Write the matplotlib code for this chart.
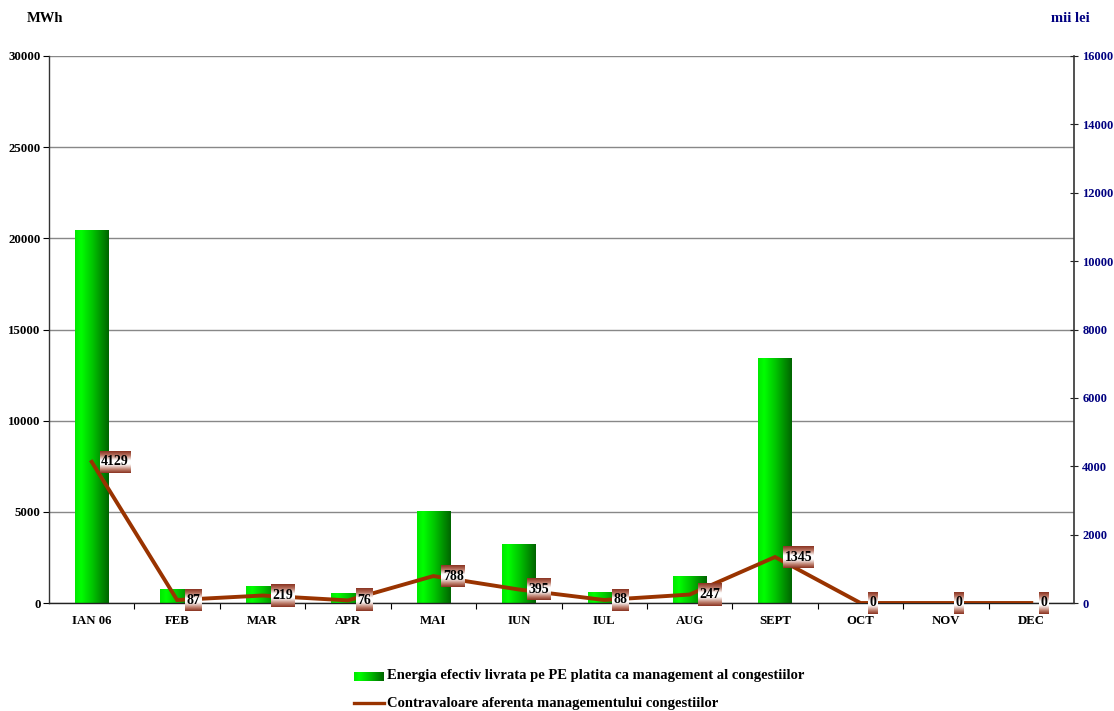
import numpy as np
import matplotlib
matplotlib.use("Agg")
import matplotlib.pyplot as plt
from matplotlib.colors import LinearSegmentedColormap
from matplotlib.lines import Line2D

# ---- data ----
months = ["IAN 06", "FEB", "MAR", "APR", "MAI", "IUN", "IUL", "AUG", "SEPT", "OCT", "NOV", "DEC"]
energy_mwh = [20450, 770, 950, 530, 5050, 3240, 600, 1480, 13440, 0, 0, 0]
value_klei = [4129, 87, 219, 76, 788, 395, 88, 247, 1345, 0, 0, 0]
energy_name = "Energia efectiv livrata pe PE platita ca management al congestiilor"
value_name = "Contravaloare aferenta managementului congestiilor"
left_unit = "MWh"
right_unit = "mii lei"

plt.rcParams["font.family"] = ["Liberation Serif", "DejaVu Serif"]
plt.rcParams["font.weight"] = "bold"

W, H = 1114, 711
fig = plt.figure(figsize=(W / 100, H / 100), dpi=100)
fig.patch.set_facecolor("white")

L, R, T, B = 49, 1074, 56, 603
ax = fig.add_axes([L / W, (H - B) / H, (R - L) / W, (B - T) / H])
ax2 = ax.twinx()

navy = "#000080"
line_col = "#993300"
grid_col = "#888888"

x = np.arange(len(months))

# gradient fill for the bars (bright green on the left, dark green on the right)
green_cmap = LinearSegmentedColormap.from_list(
    "grn", [(0.0, "#00e800"), (0.18, "#00ff00"), (0.5, "#00c800"), (1.0, "#006400")])
hgrad = np.linspace(0, 1, 256).reshape(1, -1)

bars = ax.bar(x, energy_mwh, width=0.39, color="none", edgecolor="none", zorder=2)
for b in bars:
    if b.get_height() <= 0:
        continue
    x0, y0 = b.get_x(), b.get_y()
    im = ax.imshow(hgrad, cmap=green_cmap, aspect="auto", zorder=2,
                   extent=(x0, x0 + b.get_width(), y0, y0 + b.get_height()))
    im.set_clip_path(b)
ax.set_xlim(-0.5, len(months) - 0.5)
ax.set_ylim(0, 30000)

# grid on the left scale
ax.set_yticks(np.arange(0, 30001, 5000))
ax.yaxis.grid(True, color=grid_col, linewidth=1.0)
ax.set_axisbelow(True)
ax.tick_params(axis="y", direction="out", length=4, width=0.8, pad=2,
               labelsize=9.3, colors="black")
for lab in ax.get_yticklabels():
    lab.set_fontweight("bold")

ax.set_xticks(x)
ax.set_xticklabels(months, fontsize=9.2, fontweight="bold")
ax.tick_params(axis="x", which="major", length=0, pad=9)
ax.set_xticks(np.arange(0.5, len(months) - 0.5, 1), minor=True)
ax.tick_params(axis="x", which="minor", direction="out", length=4, width=0.8)

for sp in ["top", "right"]:
    ax.spines[sp].set_visible(False)
ax.spines["left"].set_color("#333333")
ax.spines["bottom"].set_color("#222222")
ax.spines["left"].set_linewidth(1.0)
ax.spines["bottom"].set_linewidth(1.0)

# right scale
ax2.set_ylim(0, 16000)
ax2.set_yticks(np.arange(0, 16001, 2000))
ax2.tick_params(axis="y", direction="inout", length=6, width=0.8, pad=3,
                labelsize=9, labelcolor=navy, color="#222222")
for lab in ax2.get_yticklabels():
    lab.set_fontweight("bold")
for sp in ["top", "left", "bottom"]:
    ax2.spines[sp].set_visible(False)
ax2.spines["right"].set_color("#333333")
ax2.spines["right"].set_linewidth(1.2)

ax2.plot(x, value_klei, color=line_col, linewidth=2.8, solid_joinstyle="miter", zorder=3)

# value labels in brown/white gradient boxes to the right of each point
box_cmap = LinearSegmentedColormap.from_list(
    "box", [(0.0, "#8a3422"), (0.18, "#b56e5c"), (0.42, "#ffffff"),
            (0.6, "#ffffff"), (0.85, "#bb7a68"), (1.0, "#8a3422")])
vgrad = np.linspace(0, 1, 64).reshape(-1, 1)

texts = []
for xi, v in zip(x, value_klei):
    t = ax2.text(xi, v, str(v), fontsize=10, fontweight="bold", color="black",
                 ha="left", va="center", zorder=6, clip_on=False)
    texts.append(t)

fig.canvas.draw()
renderer = fig.canvas.get_renderer()
inv = ax2.transData.inverted()
for t, xi, v in zip(texts, x, value_klei):
    px, py = ax2.transData.transform((xi, v))
    ext = t.get_window_extent(renderer)
    bw = ext.width + 3
    bh = 22
    bx0 = px + 8
    by0 = py - bh / 2
    (dx0, dy0) = inv.transform((bx0, by0))
    (dx1, dy1) = inv.transform((bx0 + bw, by0 + bh))
    ax2.imshow(vgrad, cmap=box_cmap, aspect="auto", zorder=5, clip_on=False,
               extent=(dx0, dx1, dy0, dy1), interpolation="bilinear")
    cx, cy = inv.transform((bx0 + bw / 2, py))
    t.set_position((cx, cy))
    t.set_ha("center")

ax2.set_xlim(-0.5, len(months) - 0.5)
ax2.set_ylim(0, 16000)

# axis unit captions
fig.text(27 / W, 1 - 18 / H, left_unit, fontsize=10.5, fontweight="bold",
         color="black", ha="left", va="center")
fig.text(1051 / W, 1 - 18 / H, right_unit, fontsize=10.5, fontweight="bold",
         color=navy, ha="left", va="center")

# legend
lax = fig.add_axes([354 / W, 1 - 681 / H, 30 / W, 9 / H])
lax.imshow(hgrad, cmap=green_cmap, aspect="auto")
lax.set_axis_off()
fig.text(387 / W, 1 - 676 / H, energy_name, fontsize=10.5, fontweight="bold",
         ha="left", va="center", color="black")
fig.add_artist(Line2D([354 / W, 384 / W], [1 - 703 / H, 1 - 703 / H],
                      transform=fig.transFigure, color=line_col, linewidth=2.4))
fig.text(387 / W, 1 - 703 / H, value_name, fontsize=10.5, fontweight="bold",
         ha="left", va="center", color="black")

fig.savefig("out.png", dpi=100, facecolor="white")
